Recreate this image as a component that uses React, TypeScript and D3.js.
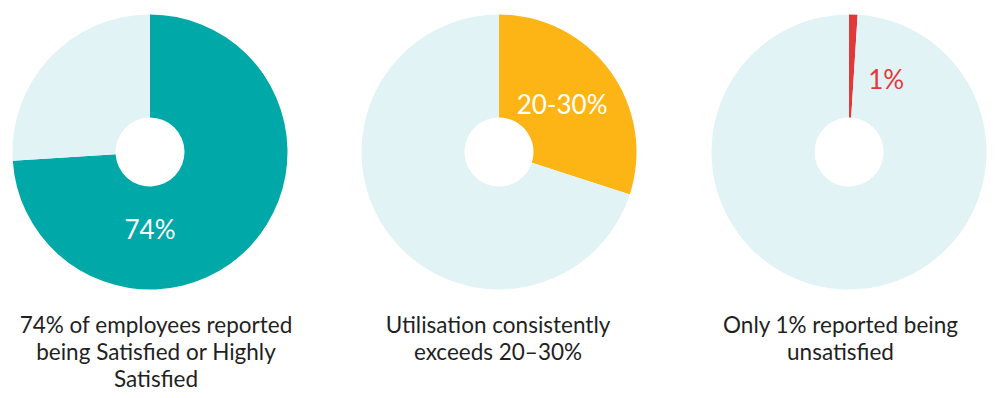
import React from "react";
import * as d3 from "d3";

const chartValues = [74, 30, 1];
const chartRemainders = [26, 70, 99];
const chartLabels = ["74%", "20-30%", "1%"];
const chartColors = ["#00A9A8", "#FDB515", "#E0393A"];
const labelColors = ["#ffffff", "#ffffff", "#E0393A"];
const captions = [
  ["74% of employees reported", "being Satisfied or Highly", "Satisfied"],
  ["Utilisation consistently", "exceeds 20\u201330%"],
  ["Only 1% reported being", "unsatisfied"],
];

const W = 997;
const H = 398;
const centersX = [150, 499, 849];
const captionX = [156, 498, 840.5];
const cy = 152;
const outerR = 137.5;
const innerR = 34.5;
const restColor = "#E1F3F5";
// label placement: angle (degrees from 12 o'clock, clockwise), radius
const labelAngles = [180, 53, 27];
const labelRadii = [77, 79, 82];

export default function App() {
  const pie = d3.pie<number>().sort(null).value((d) => d);
  const arc = d3.arc<d3.PieArcDatum<number>>().innerRadius(innerR).outerRadius(outerR);
  return (
    <svg
      width={W}
      height={H}
      style={{ position: "absolute", left: 0, top: 0, display: "block", background: "#fff" }}
      fontFamily="Lato, 'Open Sans', sans-serif"
    >
      {chartValues.map((v, i) => {
        const arcs = pie([v, chartRemainders[i]]);
        const a = (labelAngles[i] * Math.PI) / 180;
        const lx = labelRadii[i] * Math.sin(a);
        const ly = -labelRadii[i] * Math.cos(a);
        return (
          <g key={i}>
            <g transform={`translate(${centersX[i]},${cy})`}>
              {arcs.map((d, j) => (
                <path key={j} d={arc(d) || ""} fill={j === 0 ? chartColors[i] : restColor} />
              ))}
              <text
                x={lx}
                y={ly}
                textAnchor="middle"
                dominantBaseline="central"
                fontSize={26}
                fill={labelColors[i]}
              >
                {chartLabels[i]}
              </text>
            </g>
            <text textAnchor="middle" fontSize={22.5} fill="#1f1f24">
              {captions[i].map((line, k) => (
                <tspan key={k} x={captionX[i]} y={cy + 181 + k * 27}>
                  {line}
                </tspan>
              ))}
            </text>
          </g>
        );
      })}
    </svg>
  );
}
